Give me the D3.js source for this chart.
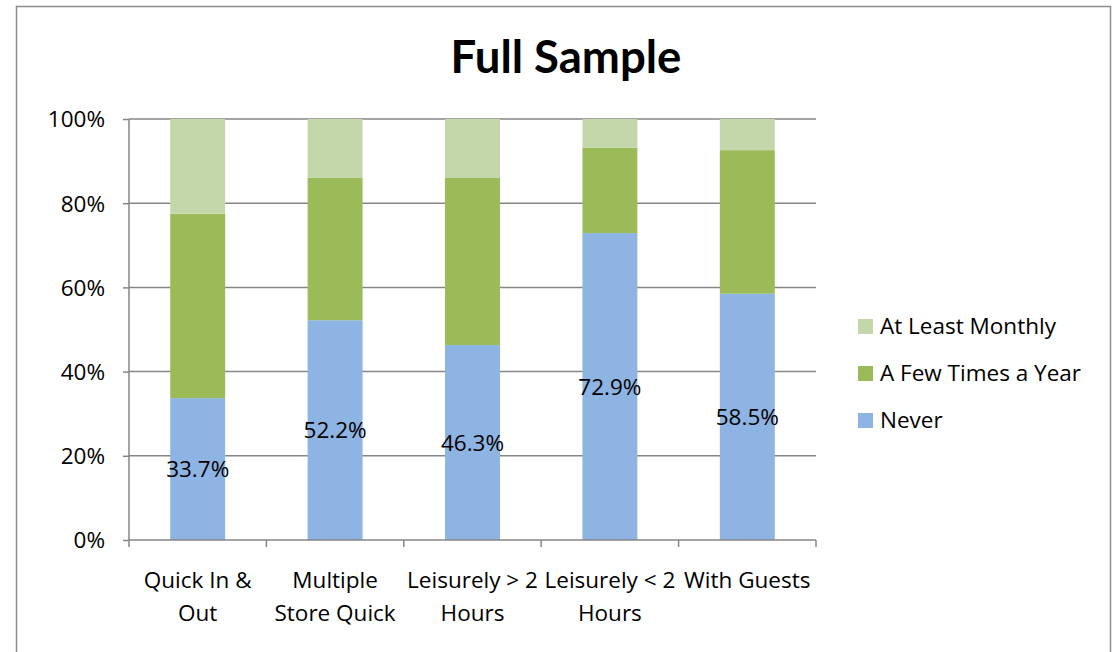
<!DOCTYPE html>
<html><head><meta charset="utf-8">
<script src="https://cdn.jsdelivr.net/npm/d3@7"></script>
<style>body{margin:0;background:#fff}svg{display:block}</style>
</head><body>
<script>
const categories = [["Quick In &","Out"],["Multiple","Store Quick"],["Leisurely > 2","Hours"],["Leisurely < 2","Hours"],["With Guests"]];
const seriesNames = ["Never","A Few Times a Year","At Least Monthly"];
const never = [33.7, 52.2, 46.3, 72.9, 58.5];
const fewTimes = [43.8, 33.9, 39.7, 20.3, 34.1];
const monthly = [22.5, 13.9, 14.0, 6.8, 7.4];
const colors = ["#8EB4E3","#9BBB59","#C4D7AA"];
const yTicks = [0,20,40,60,80,100];

const W=1117,H=652;
const font = "'Open Sans', sans-serif";
const tfont = "Lato, sans-serif";
const fs = 22.5;
const svg=d3.select("body").append("svg").attr("width",W).attr("height",H);
svg.append("rect").attr("x",16.5).attr("y",6.5).attr("width",1094).attr("height",700)
  .attr("fill","#fff").attr("stroke","#8c8c8c").attr("stroke-width",1.5);

const x0=129,x1=816,yTop=119,yBot=540;
const x=d3.scaleBand().domain(d3.range(categories.length)).range([x0,x1]).paddingInner(0.6).paddingOuter(0.3);
const y=d3.scaleLinear().domain([0,100]).range([yBot,yTop]);

svg.append("g").selectAll("line").data(yTicks.filter(d=>d>0)).join("line")
  .attr("x1",x0).attr("x2",x1).attr("y1",d=>y(d)).attr("y2",d=>y(d))
  .attr("stroke","#868686").attr("stroke-width",1.5);

const rows = categories.map((c,i)=>({i,vals:[never[i],fewTimes[i],monthly[i]]}));
const stack = d3.stack().keys([0,1,2]).value((d,k)=>d.vals[k])(rows);
svg.append("g").selectAll("g").data(stack).join("g").attr("fill",(d,k)=>colors[k])
  .selectAll("rect").data(d=>d).join("rect")
  .attr("x",d=>x(d.data.i)).attr("width",x.bandwidth())
  .attr("y",d=>y(d[1])).attr("height",d=>y(d[0])-y(d[1]));

const yAxis=svg.append("g").attr("transform",`translate(${x0},0)`)
  .call(d3.axisLeft(y).tickValues(yTicks).tickFormat(d=>d+"%").tickSize(6).tickSizeOuter(0));
const xAxis=svg.append("g").attr("transform",`translate(0,${yBot})`);
xAxis.append("line").attr("x1",x0).attr("x2",x1).attr("stroke","#868686").attr("stroke-width",1.5);
const step=(x1-x0)/categories.length;
xAxis.selectAll("line.t").data(d3.range(categories.length+1)).join("line").attr("class","t")
  .attr("x1",d=>x0+d*step).attr("x2",d=>x0+d*step).attr("y1",0).attr("y2",7)
  .attr("stroke","#868686").attr("stroke-width",1.5);
yAxis.selectAll("path,line").attr("stroke","#868686").attr("stroke-width",1.5);
yAxis.selectAll("text").attr("font-family",font).attr("font-size",fs).attr("fill","#000").attr("x",-24).attr("dy","0.35em");
yAxis.select(".domain").remove();
svg.append("line").attr("x1",x0).attr("x2",x0).attr("y1",yTop).attr("y2",yBot).attr("stroke","#868686").attr("stroke-width",1.5);

xAxis.selectAll("text.c").data(categories).join("text").attr("class","c")
  .attr("font-family",font).attr("font-size",fs).attr("text-anchor","middle").attr("fill","#000")
  .each(function(c,i){
    const t=d3.select(this);
    c.forEach((ln,j)=>t.append("tspan").attr("x",x(i)+x.bandwidth()/2).attr("y",48+j*33).text(ln));
  });

svg.append("g").selectAll("text").data(never).join("text")
  .attr("x",(d,i)=>x(i)+x.bandwidth()/2).attr("y",d=>(y(d)+y(0))/2+8)
  .attr("text-anchor","middle").attr("font-family",font).attr("font-size",fs).attr("fill","#000")
  .text(d=>d.toFixed(1)+"%");

svg.append("text").attr("x",566).attr("y",73).attr("text-anchor","middle")
  .attr("font-family",tfont).attr("font-weight","bold").attr("font-size",45.5).text("Full Sample");

const leg=[2,1,0];
const lg=svg.append("g").selectAll("g").data(leg).join("g")
  .attr("transform",(d,j)=>`translate(858,${319+j*47})`);
lg.append("rect").attr("width",15).attr("height",15).attr("fill",d=>colors[d]);
lg.append("text").attr("x",22).attr("y",15).attr("font-family",font).attr("font-size",fs).text(d=>seriesNames[d]);
</script>
</body></html>
